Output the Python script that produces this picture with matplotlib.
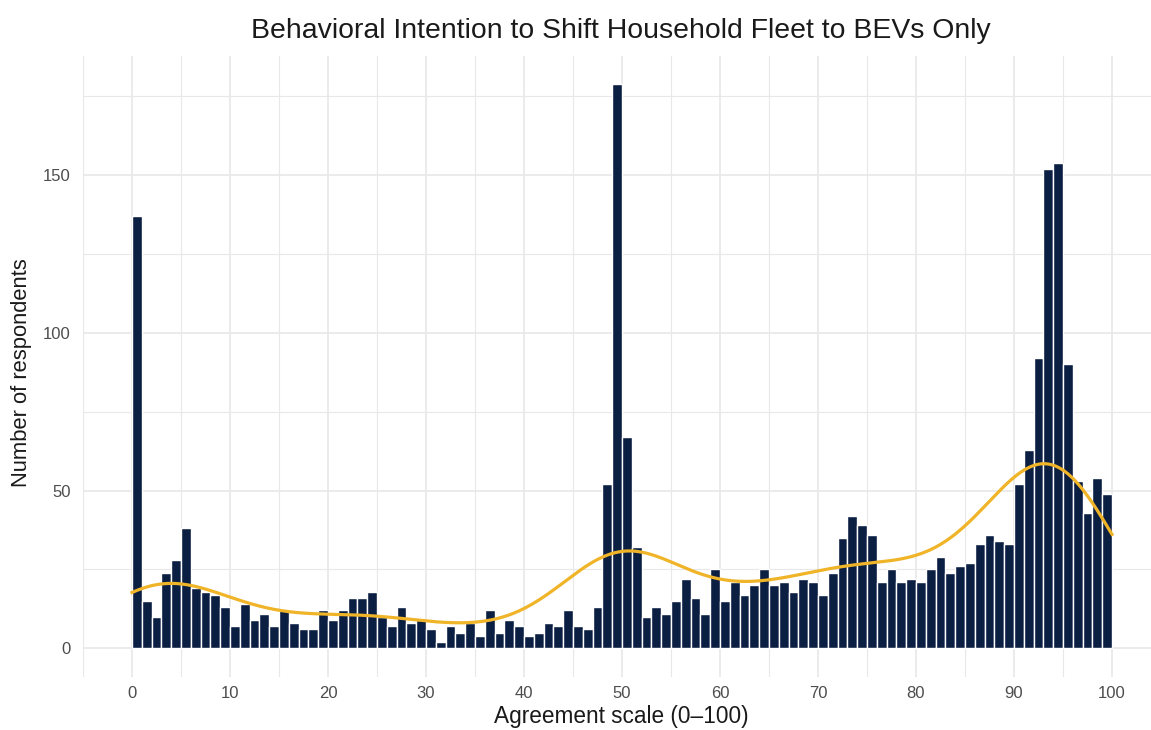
import numpy as np
import matplotlib
matplotlib.use("Agg")
import matplotlib.pyplot as plt
from matplotlib.ticker import FixedLocator

# histogram counts, one bin per unit of the 0-100 agreement scale
bin_left = list(range(0, 100))
counts = [137, 15, 10, 24, 28, 38, 19, 18, 17, 13,
          7, 14, 9, 11, 7, 12, 8, 6, 6, 12,
          9, 12, 16, 16, 18, 10, 7, 13, 8, 9,
          6, 2, 7, 5, 8, 4, 12, 5, 9, 7,
          4, 5, 8, 7, 12, 7, 6, 13, 52, 179,
          67, 32, 10, 13, 11, 15, 22, 16, 11, 25,
          15, 21, 17, 20, 25, 20, 21, 18, 22, 21,
          17, 24, 35, 42, 39, 36, 21, 25, 21, 22,
          21, 25, 29, 24, 26, 27, 33, 36, 34, 33,
          52, 63, 92, 152, 154, 90, 53, 43, 54, 49]
x_ticks = [0, 10, 20, 30, 40, 50, 60, 70, 80, 90, 100]
y_ticks = [0, 50, 100, 150]

title = "Behavioral Intention to Shift Household Fleet to BEVs Only"
xlabel = "Agreement scale (0\u2013100)"
ylabel = "Number of respondents"

navy = "#0b1f42"
gold = "#f0b428"
grid_col = "#e8e8e8"

plt.rcParams['font.family'] = ['Liberation Sans', 'DejaVu Sans']

# smoothed count density (gaussian kde over the binned responses)
centers = np.array(bin_left) + 0.5
w = np.array(counts, dtype=float)
n = w.sum()
vals = np.repeat(centers, counts)
sd = vals.std(ddof=1)
iqr = np.subtract(*np.percentile(vals, [75, 25]))
bw = 0.9 * min(sd, iqr / 1.34) * n ** -0.2
xs = np.linspace(0, 100, 512)
dens = (w[None, :] * np.exp(-0.5 * ((xs[:, None] - centers[None, :]) / bw) ** 2)).sum(axis=1)
dens = dens / (bw * np.sqrt(2 * np.pi))   # counts per unit width

fig = plt.figure(figsize=(11.51, 7.30), dpi=100)
ax = fig.add_axes([83/1151, 1 - 676.5/730, (1161 - 83)/1151, (676.5 - 55.5)/730])

ax.bar(bin_left, counts, width=1, align='edge', color=navy,
       edgecolor='white', linewidth=1.0, zorder=2)
ax.plot(xs, dens, color=gold, lw=2.3, zorder=3)

ax.set_xlim(-5, 105)
ax.set_ylim(-8.95, 187.95)
ax.xaxis.set_major_locator(FixedLocator(x_ticks))
ax.xaxis.set_minor_locator(FixedLocator([t + 5 for t in range(-10, 101, 10)]))
ax.yaxis.set_major_locator(FixedLocator(y_ticks))
ax.yaxis.set_minor_locator(FixedLocator([25, 75, 125, 175]))
ax.grid(True, which='major', color=grid_col, lw=1.2, zorder=0)
ax.grid(True, which='minor', color=grid_col, lw=0.8, zorder=0)
ax.set_axisbelow(True)
for s in ax.spines.values():
    s.set_visible(False)
ax.tick_params(which='both', length=0, labelsize=12, labelcolor='#4d4d4d')
ax.tick_params(axis='x', pad=7)
ax.tick_params(axis='y', pad=9)

fig.text(621/1151, 1 - 31/730, title, ha='center', va='center', fontsize=20.4, color='#1a1a1a')
fig.text(621/1151, 1 - 717/730, xlabel, ha='center', va='center', fontsize=16.3, color='#1a1a1a')
fig.text(22/1151, 1 - 373/730, ylabel, ha='center', va='center', rotation=90, fontsize=15.8, color='#1a1a1a')

fig.savefig("out.png", dpi=100)
